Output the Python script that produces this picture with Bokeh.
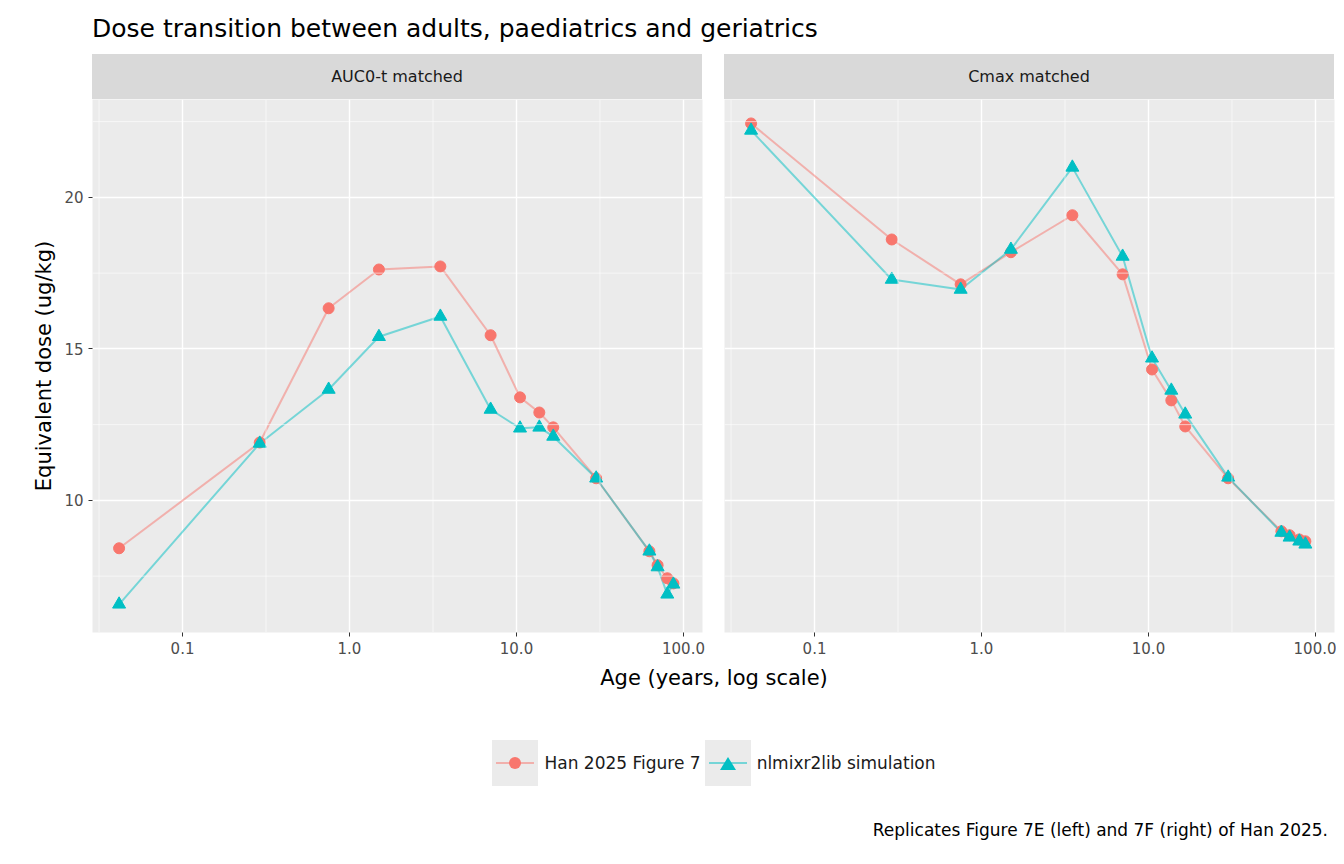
from bokeh.plotting import figure
from bokeh.layouts import column, row
from bokeh.models import Div, FixedTicker, CustomJSTickFormatter, Span, Range1d
from bokeh.embed import file_html
from bokeh.resources import INLINE

ages = [0.0417, 0.29, 0.75, 1.5, 3.5, 7, 10.5, 13.7, 16.6, 30, 62.5, 70, 80, 87]
han_auc = [8.42, 11.91, 16.34, 17.62, 17.72, 15.45, 13.40, 12.90, 12.41, 10.73, 8.32, 7.86, 7.43, 7.26]
sim_auc = [6.57, 11.88, 13.66, 15.40, 16.07, 13.00, 12.38, 12.41, 12.11, 10.73, 8.32, 7.80, 6.90, 7.23]
han_cmax = [22.44, 18.61, 17.13, 18.19, 19.41, 17.46, 14.32, 13.30, 12.44, 10.73, 8.98, 8.85, 8.71, 8.65]
sim_cmax = [22.21, 17.29, 16.96, 18.28, 20.99, 18.05, 14.69, 13.63, 12.84, 10.76, 8.94, 8.78, 8.65, 8.55]
panels = ["AUC0-t matched", "Cmax matched"]
RED, CYAN = "#F8766D", "#00BFC4"
FONT = "DejaVu Sans"

LB, RB_L, FW = 92, 15, 610

def make(han, sim, left):
    p = figure(width=LB + FW + 7 if left else RB_L + FW + 2, height=565, x_axis_type="log",
               x_range=Range1d(0.0289, 130), y_range=Range1d(5.64, 23.23),
               output_backend="svg", toolbar_location=None,
               min_border_left=LB if left else RB_L, min_border_right=7 if left else 2,
               min_border_top=0, min_border_bottom=32)
    p.background_fill_color = "#EBEBEB"
    p.outline_line_color = None
    p.border_fill_color = "white"
    p.xaxis.ticker = FixedTicker(ticks=[0.1, 1, 10, 100])
    p.xaxis.formatter = CustomJSTickFormatter(code="return tick.toFixed(1);")
    p.yaxis.ticker = FixedTicker(ticks=[10, 15, 20])
    for ax in [p.xaxis, p.yaxis]:
        ax.axis_line_color = None
        ax.major_tick_line_color = "#333333"
        ax.major_tick_out = 4
        ax.major_tick_in = 0
        ax.minor_tick_line_color = None
        ax.major_label_text_font = FONT
        ax.major_label_text_font_size = "15px"
        ax.major_label_text_color = "#4D4D4D"
    if left:
        p.yaxis.axis_label = "Equivalent dose (ug/kg)"
        p.yaxis.axis_label_text_font = FONT
        p.yaxis.axis_label_text_font_size = "21px"
        p.yaxis.axis_label_text_font_style = "normal"
        p.yaxis.axis_label_text_color = "black"
    else:
        p.yaxis.visible = False
    p.grid.grid_line_color = "white"
    p.grid.grid_line_width = 1.4
    for x in [10 ** -1.5, 10 ** -0.5, 10 ** 0.5, 10 ** 1.5]:
        p.add_layout(Span(location=x, dimension="height", line_color="white", line_width=0.6))
    for y in [7.5, 12.5, 17.5, 22.5]:
        p.add_layout(Span(location=y, dimension="width", line_color="white", line_width=0.6))
    p.line(ages, han, color=RED, alpha=0.5, line_width=2)
    p.line(ages, sim, color=CYAN, alpha=0.5, line_width=2)
    p.scatter(ages, han, marker="circle", size=11, color=RED)
    p.scatter(ages, sim, marker="triangle", size=13, color=CYAN)
    return p

p1 = make(han_auc, sim_auc, True)
p2 = make(han_cmax, sim_cmax, False)

def strip(text, w, pad):
    return Div(text=f'<div style="margin-left:{pad}px;width:{FW}px;height:45px;line-height:45px;background:#D9D9D9;'
                    f'text-align:center;font-family:DejaVu Sans;font-size:16px;color:#1A1A1A">{text}</div>',
               width=w, height=45, margin=(0, 0, 0, 0))

s1 = strip(panels[0], LB + FW + 7, LB)
s2 = strip(panels[1], RB_L + FW + 2, RB_L)

W = LB + FW + 7 + RB_L + FW + 2
title = Div(text='<div style="font-family:DejaVu Sans;font-size:25px;color:black;padding-left:92px;line-height:58px">'
                 'Dose transition between adults, paediatrics and geriatrics</div>',
            width=W, height=54, margin=(0, 0, 0, 0))
xlab = Div(text=f'<div style="width:{W}px;padding-left:92px;box-sizing:border-box;text-align:center;font-family:DejaVu Sans;'
                'font-size:21px;color:black;line-height:28px">Age (years, log scale)</div>',
           width=W, height=58, margin=(0, 0, 0, 0))
leg_html = (
    f'<div style="width:{W}px;padding-left:92px;box-sizing:border-box;display:flex;justify-content:center;align-items:center;font-family:DejaVu Sans;font-size:17px;color:#1A1A1A">'
    '<span style="display:inline-flex;width:46px;height:46px;background:#EBEBEB;align-items:center;justify-content:center;position:relative">'
    '<span style="position:absolute;left:4px;right:4px;top:22px;height:2px;background:rgba(248,118,109,0.5)"></span>'
    '<span style="width:12px;height:12px;border-radius:6px;background:#F8766D;z-index:1"></span></span>'
    '<span style="margin:0 4px 0 6px">Han 2025 Figure 7</span>'
    '<span style="display:inline-flex;width:46px;height:46px;background:#EBEBEB;align-items:center;justify-content:center;position:relative">'
    '<span style="position:absolute;left:4px;right:4px;top:22px;height:2px;background:rgba(0,191,196,0.5)"></span>'
    '<span style="width:0;height:0;border-left:8px solid transparent;border-right:8px solid transparent;border-bottom:13px solid #00BFC4;z-index:1"></span></span>'
    '<span style="margin-left:6px">nlmixr2lib simulation</span></div>')
legend = Div(text=leg_html, width=W, height=78, margin=(18, 0, 0, 0))
cap = Div(text=f'<div style="width:{W - 8}px;text-align:right;font-family:DejaVu Sans;font-size:17px;color:black">'
               'Replicates Figure 7E (left) and 7F (right) of Han 2025.</div>',
          width=W, height=30, margin=(0, 0, 0, 0))

layout = column(title, row(s1, s2, spacing=0), row(p1, p2, spacing=0), xlab, legend, cap, spacing=0)
open("out.html", "w").write(file_html(layout, INLINE))
